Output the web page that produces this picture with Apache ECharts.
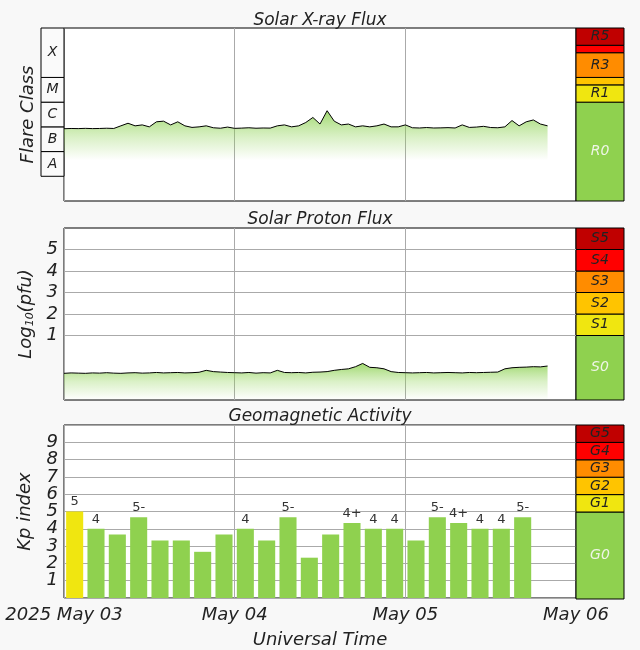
<!DOCTYPE html>
<html>
<head>
<meta charset="utf-8">
<script src="https://cdn.jsdelivr.net/npm/echarts@6/dist/echarts.min.js"></script>
<style>
  html, body { margin: 0; padding: 0; background: #f8f8f8; }
  #chart { width: 640px; height: 650px; }
</style>
</head>
<body>
<div id="chart"></div>
<script>
// hourly samples from 2025 May 03 00:00 UTC
var xrayFlux = [8.4e-7, 8.6e-7, 8.5e-7, 8.7e-7, 8.5e-7, 8.6e-7, 8.8e-7, 8.6e-7,
    1.1e-6, 1.4e-6, 1.1e-6, 1.2e-6, 1.0e-6, 1.6e-6, 1.7e-6, 1.2e-6, 1.6e-6, 1.1e-6, 9.5e-7, 1.0e-6, 1.1e-6, 9.2e-7, 8.8e-7, 9.8e-7,
    8.7e-7, 8.9e-7, 9.2e-7, 8.8e-7, 9.0e-7, 8.9e-7,
    1.1e-6, 1.2e-6, 1.0e-6, 1.1e-6, 1.5e-6, 2.4e-6, 1.3e-6, 4.5e-6, 1.7e-6, 1.2e-6, 1.3e-6, 1.0e-6, 1.1e-6, 1.0e-6, 1.1e-6, 1.3e-6, 1.0e-6, 1.0e-6,
    1.2e-6, 9.2e-7, 9.0e-7, 9.4e-7, 9.0e-7, 9.1e-7, 9.3e-7, 9.0e-7, 1.2e-6, 9.5e-7, 9.8e-7, 1.05e-6, 9.4e-7, 9.2e-7, 1.0e-6, 1.8e-6, 1.1e-6, 1.6e-6, 1.9e-6, 1.3e-6, 1.1e-6];
var protonLog = [-0.76, -0.74, -0.75, -0.76, -0.74, -0.75, -0.73, -0.75, -0.76, -0.74, -0.73, -0.75, -0.74, -0.72, -0.74, -0.73, -0.72, -0.74, -0.73, -0.71,
    -0.62, -0.68, -0.70, -0.72,
    -0.73, -0.74, -0.72, -0.75, -0.73, -0.74, -0.62, -0.72, -0.73, -0.72, -0.74, -0.71, -0.70, -0.68, -0.62, -0.58, -0.55, -0.45, -0.30, -0.48, -0.50, -0.55, -0.68, -0.72,
    -0.73, -0.74, -0.73, -0.72, -0.74, -0.73, -0.72, -0.73, -0.74, -0.72, -0.73, -0.72, -0.71, -0.70, -0.55, -0.50, -0.48, -0.47, -0.45, -0.46, -0.42];
var kpValues = [5, 4, 3.67, 4.67, 3.33, 3.33, 2.67, 3.67, 4, 3.33, 4.67, 2.33, 3.67, 4.33, 4, 4, 3.33, 4.67, 4.33, 4, 4, 4.67, null, null];

var flareClasses = [['A', 1e-8, 1e-7], ['B', 1e-7, 1e-6], ['C', 1e-6, 1e-5], ['M', 1e-5, 1e-4], ['X', 1e-4, 1e-2]];
var rScale = [['R0', 1e-9, 1e-5], ['R1', 1e-5, 5e-5], ['', 5e-5, 1e-4], ['R3', 1e-4, 1e-3], ['', 1e-3, 2e-3], ['R5', 2e-3, 1e-2]];
var sScale = [['S0', -2, 1], ['S1', 1, 2], ['S2', 2, 3], ['S3', 3, 4], ['S4', 4, 5], ['S5', 5, 6]];
var gScale = [['G0', 0, 5], ['G1', 5, 6], ['G2', 6, 7], ['G3', 7, 8], ['G4', 8, 9], ['G5', 9, 10]];
var xrayLines = [1e-5, 5e-5, 1e-4, 1e-3, 2e-3];
var protonLines = [1, 2, 3, 4, 5];

var scaleColors = ['#8fd14f', '#f0e610', '#ffc400', '#ff8c00', '#ff0000', '#c00000'];
var t0 = Date.UTC(2025, 4, 3);
var hour = 3600000, day = 86400000;
var font = 'DejaVu Sans';

function timed(arr) {
    return arr.map(function(v, i) { return [t0 + i * hour, v]; });
}
function kpLabel(v) {
    if (v == null || v < 4) return '';
    var n = Math.round(v), f = v - Math.floor(v);
    if (f < 0.1) return String(n);
    return f < 0.5 ? Math.floor(v) + '+' : n + '-';
}
function bands(list, colored) {
    return list.map(function(b, i) {
        return [{
            coord: [0, b[1]], name: b[0],
            itemStyle: { color: colored ? scaleColors[i] : '#fafafa', borderColor: '#000', borderWidth: 1, opacity: 1 },
            label: { color: colored && i == 0 ? '#eef5e6' : '#222' }
        }, { coord: [1, b[2]] }];
    });
}
function bandSeries(idx, list, colored) {
    return {
        type: 'line', xAxisIndex: idx, yAxisIndex: idx, data: [[0, list[0][1]]], showSymbol: false, silent: true,
        lineStyle: { opacity: 0 },
        markArea: {
            silent: true,
            label: { position: 'inside', fontStyle: 'italic', fontFamily: font, fontSize: 14 },
            data: bands(list, colored)
        }
    };
}
function hLines(values) {
    return {
        silent: true, symbol: 'none', label: { show: false },
        lineStyle: { color: '#aaa', type: 'solid', width: 1 },
        data: values.map(function(v) { return { yAxis: v }; })
    };
}
function fade(a, b) {
    return new echarts.graphic.LinearGradient(0, 0, 0, 1, [
        { offset: 0, color: 'rgba(120,200,50,1)' },
        { offset: a, color: 'rgba(140,210,80,0.45)' },
        { offset: b, color: 'rgba(140,210,80,0)' }
    ]);
}

var gridMain = [{ top: 28, height: 173 }, { top: 228, height: 172 }, { top: 425, height: 174 }];
var grids = [], xAxes = [], yAxes = [];
gridMain.forEach(function(g, i) {
    grids.push({ left: 64, width: 512, top: g.top, height: g.height, show: true, borderColor: '#000', borderWidth: 1, backgroundColor: '#fff' });
    xAxes.push({
        type: 'value', gridIndex: i, min: t0, max: t0 + 3 * day, interval: day,
        axisLine: { show: false }, axisTick: { show: false },
        splitLine: { show: true, lineStyle: { color: '#aaa' } },
        axisLabel: i < 2 ? { show: false } : {
            fontSize: 18, fontStyle: 'italic', fontFamily: font, color: '#222', margin: 8,
            formatter: function(v) {
                var d = new Date(v);
                var s = 'May 0' + d.getUTCDate();
                return d.getUTCDate() == 3 ? '2025 ' + s : s;
            }
        },
        name: i == 2 ? 'Universal Time' : '', nameLocation: 'middle', nameGap: 33,
        nameTextStyle: { fontSize: 18, fontStyle: 'italic', fontFamily: font, color: '#222' }
    });
});
// side scales
gridMain.forEach(function(g) {
    grids.push({ left: 576, width: 48, top: g.top, height: g.height });
});
grids.push({ left: 41, width: 23, top: 28, height: 173 });
for (var k = 3; k < 7; k++) {
    xAxes.push({ type: 'value', gridIndex: k, min: 0, max: 1, show: false });
}
var axisName = { fontSize: 18, fontStyle: 'italic', fontFamily: font, color: '#222' };
var tickLabel = { fontSize: 18, fontStyle: 'italic', fontFamily: font, color: '#222', margin: 6 };
yAxes.push({ type: 'log', gridIndex: 0, min: 1e-9, max: 1e-2, axisLabel: { show: false }, axisTick: { show: false }, axisLine: { show: false }, splitLine: { show: false },
    name: 'Flare Class', nameLocation: 'middle', nameGap: 27, nameTextStyle: axisName });
yAxes.push({ type: 'value', gridIndex: 1, min: -2, max: 6, interval: 1, axisTick: { show: false }, axisLine: { show: false }, splitLine: { show: false },
    axisLabel: Object.assign({ formatter: function(v) { return v >= 1 && v <= 5 ? v : ''; } }, tickLabel),
    name: 'Log{s|10}(pfu)', nameLocation: 'middle', nameGap: 28,
    nameTextStyle: { fontSize: 18, fontStyle: 'italic', fontFamily: font, color: '#222', rich: { s: { fontSize: 11, fontStyle: 'italic', fontFamily: font, color: '#222', verticalAlign: 'bottom', padding: [8, 0, 0, 0] } } } });
yAxes.push({ type: 'value', gridIndex: 2, min: 0, max: 10, interval: 1, axisTick: { show: false }, axisLine: { show: false },
    splitLine: { show: true, lineStyle: { color: '#aaa' } },
    axisLabel: Object.assign({ formatter: function(v) { return v >= 1 && v <= 9 ? v : ''; } }, tickLabel),
    name: 'Kp index', nameLocation: 'middle', nameGap: 30, nameTextStyle: axisName });
yAxes.push({ type: 'log', gridIndex: 3, min: 1e-9, max: 1e-2, show: false });
yAxes.push({ type: 'value', gridIndex: 4, min: -2, max: 6, show: false });
yAxes.push({ type: 'value', gridIndex: 5, min: 0, max: 10, show: false });
yAxes.push({ type: 'log', gridIndex: 6, min: 1e-9, max: 1e-2, show: false });
// category axis for Kp bars (index 7)
xAxes.push({ type: 'category', gridIndex: 2, data: kpValues.map(function(v, i) { return String(i); }), show: false });

var titleStyle = { fontSize: 17, fontStyle: 'italic', fontFamily: font, color: '#222', fontWeight: 'normal' };
var option = {
    backgroundColor: '#f8f8f8',
    animation: false,
    title: [
        { text: 'Solar X-ray Flux', left: 'center', top: 7, textStyle: titleStyle },
        { text: 'Solar Proton Flux', left: 'center', top: 206, textStyle: titleStyle },
        { text: 'Geomagnetic Activity', left: 'center', top: 403, textStyle: titleStyle }
    ],
    grid: grids,
    xAxis: xAxes,
    yAxis: yAxes,
    series: [
        {
            type: 'line', xAxisIndex: 0, yAxisIndex: 0, data: timed(xrayFlux), showSymbol: false,
            lineStyle: { color: '#000', width: 1 }, areaStyle: { color: fade(0.3, 0.55), origin: 'start' },
            markLine: hLines(xrayLines)
        },
        {
            type: 'line', xAxisIndex: 1, yAxisIndex: 1, data: timed(protonLog), showSymbol: false,
            lineStyle: { color: '#000', width: 1 }, areaStyle: { color: fade(0.5, 1), origin: 'start' },
            markLine: hLines(protonLines)
        },
        {
            type: 'bar', xAxisIndex: 7, yAxisIndex: 2, barCategoryGap: '20%',
            data: kpValues.map(function(v) {
                return { value: v, itemStyle: { color: v >= 5 ? '#f0e610' : '#8fd14f' } };
            }),
            label: { show: true, position: 'top', distance: 3, fontSize: 13, fontFamily: font, color: '#333',
                formatter: function(p) { return kpLabel(p.value); } }
        },
        bandSeries(3, rScale, true),
        bandSeries(4, sScale, true),
        bandSeries(5, gScale, true),
        bandSeries(6, flareClasses, false)
    ]
};
echarts.init(document.getElementById('chart')).setOption(option);
</script>
</body>
</html>
